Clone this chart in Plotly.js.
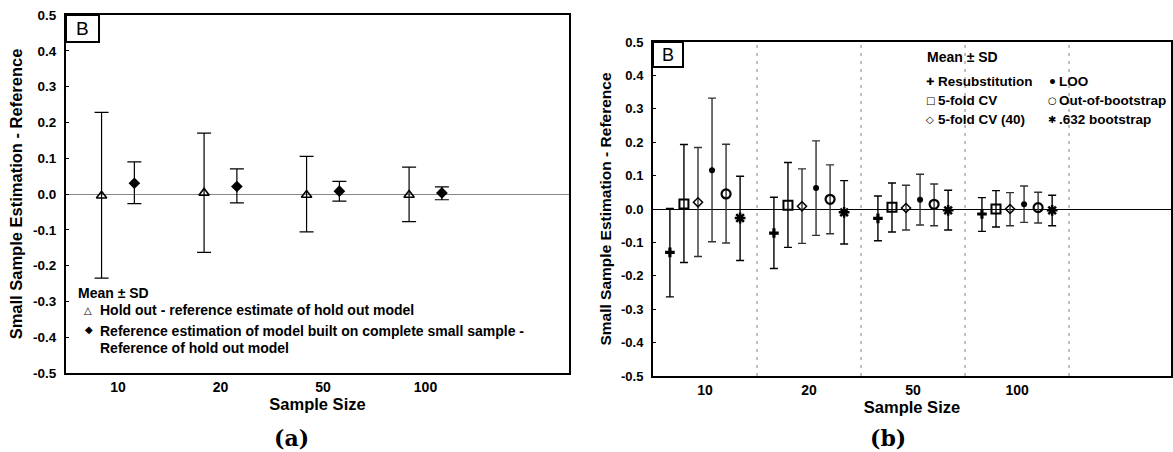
<!DOCTYPE html>
<html>
<head>
<meta charset="utf-8">
<script src="https://cdn.plot.ly/plotly-3.0.1.min.js"></script>
<style>
  html, body { margin: 0; padding: 0; background: #fff; }
  #chart { width: 1173px; height: 452px; }
</style>
</head>
<body>
<div id="chart"></div>
<script>
// ---------- Data ----------
const sampleSizes = ['10', '20', '50', '100'];
const yTickVals = [-0.5, -0.4, -0.3, -0.2, -0.1, 0.0, 0.1, 0.2, 0.3, 0.4, 0.5];
const yTickText = ['-0.5', '-0.4', '-0.3', '-0.2', '-0.1', '0.0', '0.1', '0.2', '0.3', '0.4', '0.5'];

// Panel (a)
const holdOutMean  = [-0.005, 0.003, -0.003, -0.003];
const holdOutUpper = [0.228, 0.170, 0.105, 0.075];
const holdOutLower = [-0.235, -0.163, -0.106, -0.077];
const refMean  = [0.030, 0.021, 0.008, 0.003];
const refUpper = [0.090, 0.070, 0.035, 0.020];
const refLower = [-0.027, -0.025, -0.020, -0.016];

// Panel (b)
const resubMean  = [-0.130, -0.072, -0.028, -0.015];
const resubUpper = [0.002, 0.035, 0.039, 0.034];
const resubLower = [-0.263, -0.178, -0.095, -0.067];
const cv5Mean  = [0.015, 0.011, 0.005, 0.000];
const cv5Upper = [0.193, 0.139, 0.078, 0.055];
const cv5Lower = [-0.160, -0.115, -0.069, -0.054];
const cv540Mean  = [0.020, 0.008, 0.003, 0.000];
const cv540Upper = [0.184, 0.120, 0.071, 0.049];
const cv540Lower = [-0.142, -0.103, -0.063, -0.050];
const looMean  = [0.116, 0.063, 0.028, 0.014];
const looUpper = [0.332, 0.204, 0.104, 0.069];
const looLower = [-0.098, -0.079, -0.048, -0.040];
const oobMean  = [0.045, 0.029, 0.014, 0.004];
const oobUpper = [0.194, 0.132, 0.075, 0.050];
const oobLower = [-0.102, -0.074, -0.050, -0.042];
const b632Mean  = [-0.027, -0.010, -0.004, -0.004];
const b632Upper = [0.098, 0.085, 0.056, 0.041];
const b632Lower = [-0.154, -0.105, -0.063, -0.050];

// ---------- Helpers ----------
const FONT = 'Liberation Sans, Arial, Helvetica, sans-serif';
const idx = sampleSizes.map((_, i) => i);
const bold = a => a.map(t => '<b>' + t + '</b>');

function errTrace(name, mean, upper, lower, offset, marker, xa, ya, errColor, errW, errThick) {
  return {
    type: 'scatter', mode: 'markers', name: name, showlegend: false,
    x: idx.map(i => i + offset), y: mean,
    xaxis: xa, yaxis: ya,
    marker: marker,
    error_y: {
      type: 'data', symmetric: false,
      array: upper.map((u, i) => u - mean[i]),
      arrayminus: lower.map((l, i) => mean[i] - l),
      color: errColor, thickness: errThick, width: errW
    },
    cliponaxis: false
  };
}

const traces = [
  errTrace('Hold out - reference estimate of hold out model', holdOutMean, holdOutUpper, holdOutLower, -0.16,
    {symbol: 'triangle-up-open', size: 9, color: '#000', line: {color: '#000', width: 1.6}}, 'x', 'y', '#000', 7, 1.2),
  errTrace('Reference estimation of model built on complete small sample - Reference of hold out model', refMean, refUpper, refLower, 0.16,
    {symbol: 'diamond', size: 9, color: '#000'}, 'x', 'y', '#000', 7, 1.2)
];

const bStep = 0.135;
const bSeries = [
  ['Resubstitution', resubMean, resubUpper, resubLower, {symbol: 'cross', size: 8, color: '#000'}, '#000'],
  ['5-fold CV', cv5Mean, cv5Upper, cv5Lower, {symbol: 'square-open', size: 9, color: '#000', line: {color: '#000', width: 2}}, '#000'],
  ['5-fold CV (40)', cv540Mean, cv540Upper, cv540Lower, {symbol: 'diamond-open', size: 7, color: '#000', line: {color: '#000', width: 1.5}}, '#333'],
  ['LOO', looMean, looUpper, looLower, {symbol: 'circle', size: 6, color: '#000'}, '#333'],
  ['Out-of-bootstrap', oobMean, oobUpper, oobLower, {symbol: 'circle-open', size: 9, color: '#000', line: {color: '#000', width: 2.2}}, '#333'],
  ['.632 bootstrap', b632Mean, b632Upper, b632Lower, {symbol: 'asterisk-open', size: 9, color: '#000', line: {color: '#000', width: 2.5}}, '#000']
];
bSeries.forEach((s, k) => {
  traces.push(errTrace(s[0], s[1], s[2], s[3], (k - 2.5) * bStep, s[4], 'x2', 'y2', s[5], 4, 1.4));
});

// ---------- Layout ----------
const W = 1173, H = 452;
const aL = 66, aR = 569, aT = 15, aB = 373;
const bL = 653, bR = 1171, bT = 42, bB = 376;

function yAxis(dom, tickSize, title, titleSize) {
  return {
    domain: [(H - dom[1]) / H, (H - dom[0]) / H],
    range: [-0.5, 0.5], tickvals: yTickVals, ticktext: bold(yTickText),
    showgrid: false, zeroline: true, zerolinewidth: 1,
    showline: true, mirror: true, linewidth: 2, linecolor: '#000',
    ticks: 'inside', ticklen: 3, tickwidth: 1, tickcolor: '#000',
    tickfont: {family: FONT, size: tickSize, color: '#000'},
    ticklabelstandoff: 5,
    title: {text: '<b>' + title + '</b>', font: {family: FONT, size: titleSize, color: '#000'}},
    fixedrange: true
  };
}
function xAxis(dom, range, tickSize) {
  return {
    domain: [dom[0] / W, dom[1] / W],
    range: range, tickvals: idx, ticktext: bold(sampleSizes),
    showgrid: false, zeroline: false,
    showline: true, mirror: true, linewidth: 2, linecolor: '#000',
    ticks: '', ticklabelstandoff: 0,
    tickfont: {family: FONT, size: tickSize, color: '#000'},
    title: {text: '<b>Sample Size</b>', font: {family: FONT, size: 16.5, color: '#000'}, standoff: 0},
    fixedrange: true
  };
}

const layout = {
  width: W, height: H,
  margin: {l: 0, r: 0, t: 0, b: 0},
  paper_bgcolor: '#fff', plot_bgcolor: '#fff',
  showlegend: false,
  xaxis: Object.assign(xAxis([aL, aR], [-0.507, 4.4], 14), {anchor: 'y'}),
  yaxis: Object.assign(yAxis([aT, aB], 13.5, 'Small Sample Estimation - Reference', 16.5), {anchor: 'x', zerolinecolor: '#888'}),
  xaxis2: Object.assign(xAxis([bL, bR], [-0.5, 4.48], 14), {anchor: 'y2'}),
  yaxis2: Object.assign(yAxis([bT, bB], 13, 'Small Sample Estimation - Reference', 15.5), {anchor: 'x2', zerolinecolor: '#000'}),
  shapes: [],
  annotations: []
};

// category dividers in panel (b)
idx.forEach(i => {
  layout.shapes.push({type: 'line', xref: 'x2', yref: 'y2 domain', x0: i + 0.5, x1: i + 0.5, y0: 0, y1: 1,
    line: {color: '#aaa', width: 1.5, dash: '3px,5px'}, layer: 'below'});
});

// "B" boxes
function bBox(xr, yr, w, h, plotW, plotH, size) {
  layout.shapes.push({type: 'rect', xref: xr + ' domain', yref: yr + ' domain',
    x0: 0, x1: w / plotW, y0: 1 - h / plotH, y1: 1, line: {color: '#000', width: 2}, fillcolor: 'rgba(0,0,0,0)'});
  layout.annotations.push({xref: xr + ' domain', yref: yr + ' domain', x: w / plotW / 2, y: 1 - h / plotH / 2,
    text: 'B', showarrow: false, xanchor: 'center', yanchor: 'middle',
    font: {family: FONT, size: size, color: '#000'}});
}
bBox('x', 'y', 33, 27, aR - aL, aB - aT, 19);
bBox('x2', 'y2', 30, 25, bR - bL, bB - bT, 18);

function txt(x, y, text, size, anchor, fam) {
  layout.annotations.push({xref: 'paper', yref: 'paper', x: x / W, y: 1 - y / H, text: text,
    showarrow: false, xanchor: anchor || 'left', yanchor: 'middle',
    font: {family: fam || FONT, size: size, color: '#000'}});
}

// Panel (a) legend
txt(76, 293, '<b>Mean ± SD</b>', 14);
txt(88, 310, '△', 10, 'center', 'DejaVu Sans');
txt(98, 310, '<b>Hold out - reference estimate of hold out model</b>', 14);
txt(89, 329, '◆', 10, 'center', 'DejaVu Sans');
txt(98, 331, '<b>Reference estimation of model built on complete small sample -</b>', 14);
txt(98, 348, '<b>Reference of hold out model</b>', 14);

// Panel (b) legend
txt(925, 57, '<b>Mean ± SD</b>', 14);
const legSym = ['✚', '□', '◇', '•', '○', '✱'];
const legRowsY = [82, 100, 119];
bSeries.forEach((s, k) => {
  const col = Math.floor(k / 3), row = k % 3;
  const sx = col === 0 ? 930 : 1052;
  const tx = col === 0 ? 936 : 1057;
  txt(sx, legRowsY[row], '<b>' + legSym[k] + '</b>', k === 3 ? 14 : 10, 'center', 'DejaVu Sans');
  txt(tx, legRowsY[row], '<b>' + s[0] + '</b>', 13.5);
});

// Panel captions
txt(291, 438, '<b>(a)</b>', 22, 'center', 'DejaVu Serif');
txt(888, 438, '<b>(b)</b>', 22, 'center', 'DejaVu Serif');

Plotly.newPlot('chart', traces, layout, {staticPlot: true, displayModeBar: false});
</script>
</body>
</html>
